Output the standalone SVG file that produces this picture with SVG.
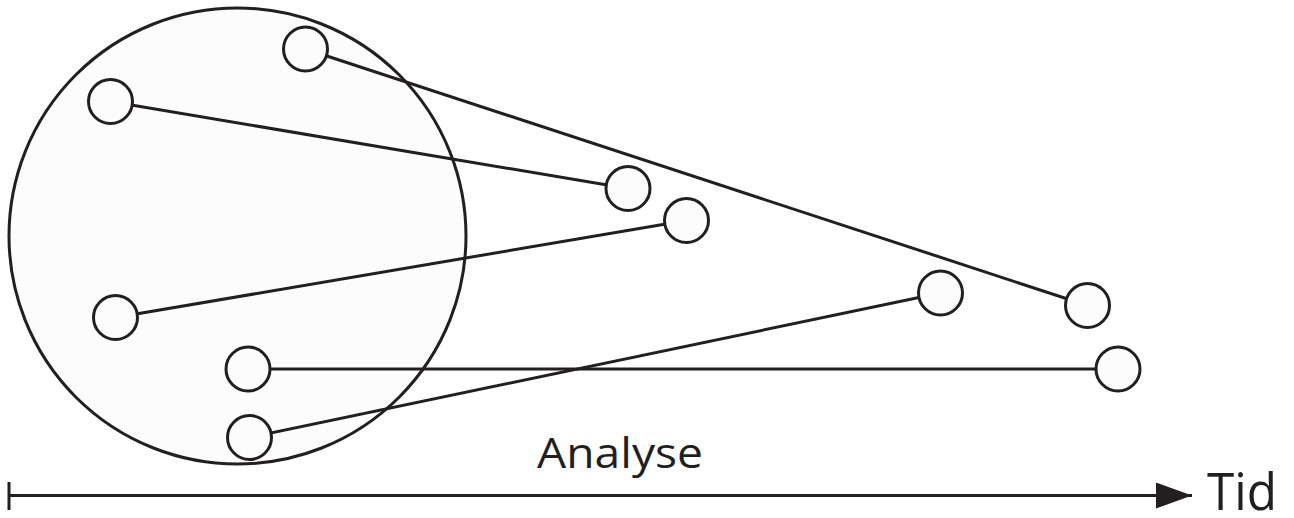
<svg xmlns="http://www.w3.org/2000/svg" width="1294" height="518" viewBox="0 0 1294 518">
<style>
.node{fill:#fcfcfc;stroke:#231f20;stroke-width:3}
.edge{fill:none;stroke:#231f20;stroke-width:3}
.lbl{font-family:"Open Sans","Liberation Sans",sans-serif;fill:#231f20}
</style>
<defs>
<marker id="arr" markerUnits="userSpaceOnUse" markerWidth="40" markerHeight="30" refX="36" refY="13" orient="auto">
<path d="M0,0 L36,13 L0,26 Z" fill="#231f20"/>
</marker>
</defs>
<rect width="1294" height="518" fill="#ffffff"/>
<g id="group-circle">
<ellipse cx="237.5" cy="236" rx="228.5" ry="228" class="node" stroke-width="2.5"/>
</g>
<g id="connectors">
<line class="edge" x1="305.5" y1="49" x2="1087.5" y2="305.5"/>
<line class="edge" x1="110.5" y1="101.5" x2="628" y2="188.5"/>
<line class="edge" x1="115.5" y1="317.5" x2="686.5" y2="220.5"/>
<line class="edge" x1="248" y1="369" x2="1118" y2="369"/>
<line class="edge" x1="249.5" y1="437.5" x2="940.5" y2="293"/>
<line class="edge" x1="9" y1="495.5" x2="1192" y2="495.5" marker-end="url(#arr)"/>
<line class="edge" x1="9" y1="482" x2="9" y2="510"/>
</g>
<g id="n1"><circle class="node" cx="305.5" cy="49" r="22"/></g>
<g id="n2"><circle class="node" cx="110.5" cy="101.5" r="22"/></g>
<g id="n3"><circle class="node" cx="115.5" cy="317.5" r="22"/></g>
<g id="n4"><circle class="node" cx="248" cy="369" r="22"/></g>
<g id="n5"><circle class="node" cx="249.5" cy="437.5" r="22"/></g>
<g id="n6"><circle class="node" cx="628" cy="188.5" r="22"/></g>
<g id="n7"><circle class="node" cx="686.5" cy="220.5" r="22"/></g>
<g id="n8"><circle class="node" cx="940.5" cy="293" r="22"/></g>
<g id="n9"><circle class="node" cx="1087.5" cy="305.5" r="22"/></g>
<g id="n10"><circle class="node" cx="1118" cy="369" r="22"/></g>
<g id="labels">
<text class="lbl" x="537" y="468" font-size="42" textLength="166" lengthAdjust="spacingAndGlyphs">Analyse</text>
<text class="lbl" x="1207" y="510" font-size="51" textLength="70" lengthAdjust="spacingAndGlyphs">Tid</text>
</g>
</svg>
